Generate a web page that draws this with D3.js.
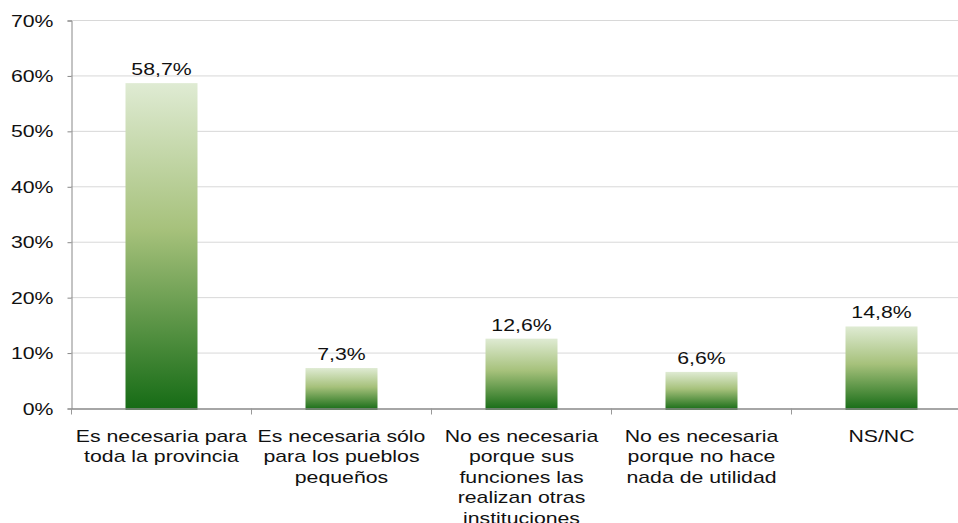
<!DOCTYPE html>
<html>
<head>
<meta charset="utf-8">
<script src="https://cdn.jsdelivr.net/npm/d3@7"></script>
<style>
body{margin:0;background:#fff;}
text{font-family:"Liberation Sans",Arial,sans-serif;fill:#111;}
</style>
</head>
<body>
<div id="chart"></div>
<script>
// data
const categories = ["c1","c2","c3","c4","c5"];
const catLabels = [
  ["Es necesaria para","toda la provincia"],
  ["Es necesaria sólo","para los pueblos","pequeños"],
  ["No es necesaria","porque sus","funciones las","realizan otras","instituciones"],
  ["No es necesaria","porque no hace","nada de utilidad"],
  ["NS/NC"]
];
const values = [58.7, 7.3, 12.6, 6.6, 14.8];
const valueLabels = ["58,7%","7,3%","12,6%","6,6%","14,8%"];
const yTicks = [0,10,20,30,40,50,60,70];

const w = 958, h = 523;
const mLeft = 71.5, mRight = 971.5, mTop = 20.5, mBottom = 408.5;
const sx = 1.33; // text is wide in the original

const svg = d3.select("#chart").append("svg")
  .attr("width", w).attr("height", h);

// gradient per bar
const grad = svg.append("defs").append("linearGradient")
  .attr("id","barGrad").attr("x1",0).attr("y1",0).attr("x2",0).attr("y2",1);
grad.append("stop").attr("offset","0%").attr("stop-color","#dfebd3");
grad.append("stop").attr("offset","45%").attr("stop-color","#a6c17b");
grad.append("stop").attr("offset","100%").attr("stop-color","#156b15");

const x = d3.scaleBand().domain(categories).range([mLeft, mRight]).padding(0);
const y = d3.scaleLinear().domain([0,70]).range([mBottom, mTop]);

// grid
svg.append("g").selectAll("line")
  .data(yTicks.slice(1))
  .enter().append("line")
  .attr("x1", mLeft).attr("x2", w)
  .attr("y1", d => y(d)).attr("y2", d => y(d))
  .attr("stroke","#b0b0b0")
  .attr("stroke-dasharray","1,1");

// y axis
const yAxis = svg.append("g")
  .attr("transform","translate(" + mLeft + ",0)")
  .call(d3.axisLeft(y).tickValues(yTicks).tickFormat("").tickSize(4));
yAxis.select(".domain").attr("stroke","#888");
yAxis.selectAll(".tick line").attr("stroke","#888");
yAxis.selectAll(".tick").append("text")
  .attr("text-anchor","end")
  .attr("dy","0.35em")
  .attr("transform","translate(-18,0) scale(" + sx + ",1)")
  .style("font-size","16px")
  .text(d => d + "%");

// bars
const bw = x.bandwidth() * 0.4;
svg.selectAll("rect.bar")
  .data(values)
  .enter().append("rect")
  .attr("class","bar")
  .attr("x", (d,i) => x(categories[i]) + (x.bandwidth() - bw) / 2)
  .attr("y", d => y(d))
  .attr("width", bw)
  .attr("height", d => y(0) - y(d) + 1.5)
  .attr("fill","url(#barGrad)");

// x axis
const xAxis = svg.append("g")
  .attr("transform","translate(0," + mBottom + ")")
  .call(d3.axisBottom(x).tickSize(0).tickFormat(""));
xAxis.select(".domain").attr("stroke","#888").attr("stroke-width",1.5);
xAxis.selectAll(".tick").remove();

// category separators
svg.append("g").selectAll("line")
  .data(categories.concat(["end"]))
  .enter().append("line")
  .attr("x1", (d,i) => mLeft + i * x.step())
  .attr("x2", (d,i) => mLeft + i * x.step())
  .attr("y1", mBottom).attr("y2", mBottom + 6)
  .attr("stroke","#999");

// category labels
const lab = svg.append("g").selectAll("text")
  .data(catLabels)
  .enter().append("text")
  .attr("text-anchor","middle")
  .attr("transform", (d,i) => "translate(" + (x(categories[i]) + x.bandwidth() / 2) + ",442) scale(" + sx + ",1)")
  .style("font-size","16px");
lab.each(function(lines){
  const t = d3.select(this);
  lines.forEach((l, j) => {
    t.append("tspan")
      .attr("x", 0)
      .attr("dy", j === 0 ? 0 : 20.5)
      .text(l);
  });
});

// value labels
svg.append("g").selectAll("text")
  .data(values)
  .enter().append("text")
  .attr("text-anchor","middle")
  .attr("transform", (d,i) => "translate(" + (x(categories[i]) + x.bandwidth() / 2) + "," + (y(d) - 8) + ") scale(" + sx + ",1)")
  .style("font-size","16px")
  .text((d,i) => valueLabels[i]);
</script>
</body>
</html>
